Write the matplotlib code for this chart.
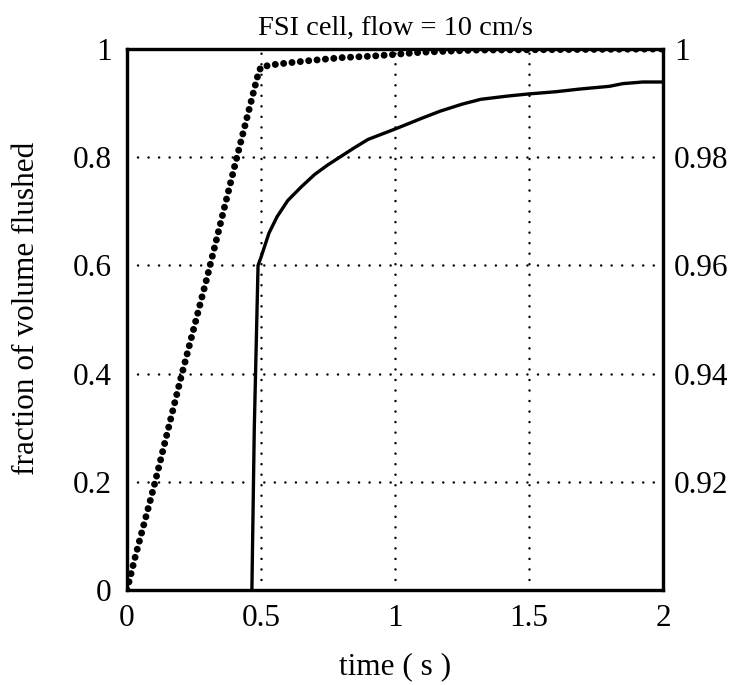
import matplotlib
matplotlib.use("Agg")
import matplotlib.pyplot as plt

# dotted series (left axis, fraction of volume flushed)
t_dot = [0.0, 0.01, 0.03, 0.10, 0.20, 0.30, 0.41, 0.49, 0.50, 0.56, 0.67, 0.80, 0.92, 1.00, 1.10, 1.30, 2.00]
f_dot = [0.0, 0.02, 0.06, 0.19, 0.39, 0.58, 0.80, 0.955, 0.967, 0.972, 0.978, 0.984, 0.987, 0.990, 0.994, 0.998, 1.0]

# solid series (right axis)
t_sol = [0.466, 0.475, 0.489, 0.50, 0.51, 0.53, 0.56, 0.60, 0.65, 0.70, 0.75, 0.80, 0.85, 0.90,
         1.00, 1.10, 1.168, 1.25, 1.32, 1.42, 1.50, 1.60, 1.69, 1.80, 1.85, 1.925, 2.00]
f_sol = [0.900, 0.930, 0.960, 0.9615, 0.9630, 0.9660, 0.9690, 0.9720, 0.9745, 0.9768, 0.9786, 0.9802,
         0.9818, 0.9833, 0.9852, 0.9872, 0.9885, 0.9898, 0.9907, 0.9913, 0.9917, 0.9921, 0.9926,
         0.9931, 0.9936, 0.9939, 0.9939]

xticks = [0, 0.5, 1, 1.5, 2]
xticklabels = ["0", "0.5", "1", "1.5", "2"]
yticks_left = [0, 0.2, 0.4, 0.6, 0.8, 1.0]
yticklabels_left = ["0", "0.2", "0.4", "0.6", "0.8", "1"]
yticks_right = [0.92, 0.94, 0.96, 0.98, 1.0]
yticklabels_right = ["0.92", "0.94", "0.96", "0.98", "1"]

plt.rcParams['font.family'] = ['Liberation Serif', 'DejaVu Serif']
plt.rcParams['font.size'] = 22.5

fig = plt.figure(figsize=(7.34, 6.85), dpi=100)
ax = fig.add_axes([127/734, 1 - 590/685, (663-127)/734, (590-49)/685])
ax.set_xlim(0, 2)
ax.set_ylim(0, 1)

ax.plot(t_dot, f_dot, color='black', lw=5.0, linestyle=(0, (0.01, 1.2)),
        dash_capstyle='round', solid_capstyle='round', zorder=3)

ax.set_xticks(xticks)
ax.set_xticklabels(xticklabels)
ax.set_yticks(yticks_left)
ax.set_yticklabels(yticklabels_left)
ax.grid(True, color='black', lw=1.8, linestyle=(0, (0.01, 4.2)), dash_capstyle='round')
ax.tick_params(axis='x', direction='in', length=0, pad=10)
ax.tick_params(axis='y', direction='in', length=0, pad=11)
for s in ax.spines.values():
    s.set_linewidth(2.3)

ax.set_xlabel("time ( s )", labelpad=14)
ax.set_ylabel("fraction of volume flushed")
ax.yaxis.set_label_coords(-0.16, 0.52)
ax.set_title("FSI cell, flow = 10 cm/s", pad=10, fontsize=20.5)

ax2 = ax.twinx()
ax2.set_ylim(0.9, 1.0)
ax2.plot(t_sol, f_sol, color='black', lw=2.4, zorder=3)
ax2.set_yticks(yticks_right)
ax2.set_yticklabels(yticklabels_right)
ax2.tick_params(direction='in', length=0, pad=8)
for s in ax2.spines.values():
    s.set_linewidth(2.3)

fig.savefig("out.png", dpi=100)
